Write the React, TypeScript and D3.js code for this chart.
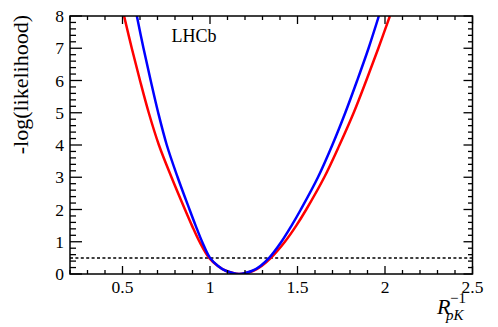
import React, { useRef, useEffect } from 'react';
import * as d3 from 'd3';

// values: -log(likelihood) against R_pK^-1
const xRed = [0.509, 0.553, 0.600, 0.650, 0.708, 0.780, 0.857, 0.897, 0.940, 0.995, 1.045, 1.090, 1.168, 1.248, 1.295, 1.348, 1.428, 1.493, 1.550, 1.653, 1.740, 1.821, 1.893, 1.962, 2.028];
const yRed = [8, 7, 6, 5, 4, 3, 2, 1.5, 1, 0.5, 0.25, 0.1, 0, 0.1, 0.25, 0.5, 1, 1.5, 2, 3, 4, 5, 6, 7, 8];

const xBlue = [0.582, 0.620, 0.661, 0.704, 0.753, 0.815, 0.883, 0.918, 0.955, 1.000, 1.046, 1.090, 1.165, 1.242, 1.288, 1.338, 1.408, 1.466, 1.519, 1.617, 1.699, 1.773, 1.841, 1.906, 1.965];
const yBlue = [8, 7, 6, 5, 4, 3, 2, 1.5, 1, 0.5, 0.25, 0.1, 0, 0.1, 0.25, 0.5, 1, 1.5, 2, 3, 4, 5, 6, 7, 8];

const xMajor = [0.5, 1, 1.5, 2, 2.5];
const xMajorLabels = ['0.5', '1', '1.5', '2', '2.5'];
const yMajor = [0, 1, 2, 3, 4, 5, 6, 7, 8];
const threshold = 0.5;

const LikelihoodScan = () => {
  const svgRef = useRef(null);

  useEffect(() => {
    const W = 498, H = 327;
    const margin = { top: 16, right: 25.5, bottom: 53, left: 70 };
    const x = d3.scaleLinear().domain([0.2, 2.5]).range([margin.left, W - margin.right]);
    const y = d3.scaleLinear().domain([0, 8]).range([H - margin.bottom, margin.top]);
    const font = '"Liberation Serif", "Times New Roman", serif';

    const svg = d3.select(svgRef.current)
      .attr('width', W)
      .attr('height', H);

    const x0 = x.range()[0], x1 = x.range()[1];
    const y0 = y.range()[0], y1 = y.range()[1];

    svg.append('clipPath').attr('id', 'frameClip')
      .append('rect')
      .attr('x', x0).attr('y', y1)
      .attr('width', x1 - x0).attr('height', y0 - y1);

    // dotted line at 0.5
    svg.append('line')
      .attr('x1', x0).attr('x2', x1)
      .attr('y1', y(threshold)).attr('y2', y(threshold))
      .attr('stroke', '#000')
      .attr('stroke-width', 1.5)
      .attr('stroke-dasharray', '3,2.4');

    const line = d3.line()
      .x(d => x(d[0]))
      .y(d => y(d[1]))
      .curve(d3.curveCatmullRom.alpha(0.5));

    const series = [
      { xs: xRed, ys: yRed, color: '#ff0000' },
      { xs: xBlue, ys: yBlue, color: '#0000ff' },
    ];

    svg.append('g')
      .attr('clip-path', 'url(#frameClip)')
      .selectAll('path')
      .data(series)
      .enter()
      .append('path')
      .attr('d', d => line(d.xs.map((v, i) => [v, d.ys[i]])))
      .attr('fill', 'none')
      .attr('stroke', d => d.color)
      .attr('stroke-width', 2.5)
      .attr('stroke-linejoin', 'round');

    // ticks on all four sides
    const xMinor = d3.range(2, 26).map(v => v / 10);
    const yMinor = d3.range(0, 41).map(v => v / 5);
    const ticks = svg.append('g').attr('stroke', '#000').attr('stroke-width', 1.3);

    xMinor.forEach(v => {
      const major = xMajor.some(m => Math.abs(m - v) < 1e-6);
      const len = major ? 8 : 4;
      ticks.append('line').attr('x1', x(v)).attr('x2', x(v)).attr('y1', y0).attr('y2', y0 - len);
      ticks.append('line').attr('x1', x(v)).attr('x2', x(v)).attr('y1', y1).attr('y2', y1 + len);
    });

    yMinor.forEach(v => {
      const major = Math.abs(v - Math.round(v)) < 1e-6;
      ticks.append('line').attr('x1', x0).attr('x2', x0 + (major ? 12 : 6)).attr('y1', y(v)).attr('y2', y(v));
      ticks.append('line').attr('x1', x1).attr('x2', x1 - (major ? 9 : 4.5)).attr('y1', y(v)).attr('y2', y(v));
    });

    svg.append('rect')
      .attr('x', x0).attr('y', y1)
      .attr('width', x1 - x0).attr('height', y0 - y1)
      .attr('fill', 'none')
      .attr('stroke', '#000')
      .attr('stroke-width', 1.5);

    // tick labels
    svg.append('g')
      .selectAll('text')
      .data(xMajor)
      .enter()
      .append('text')
      .attr('x', d => x(d))
      .attr('y', 292.5)
      .attr('text-anchor', 'middle')
      .style('font-family', font)
      .style('font-size', '17.5px')
      .text((d, i) => xMajorLabels[i]);

    svg.append('g')
      .selectAll('text')
      .data(yMajor)
      .enter()
      .append('text')
      .attr('x', 64)
      .attr('y', d => y(d) + 6)
      .attr('text-anchor', 'end')
      .style('font-family', font)
      .style('font-size', '17.5px')
      .text(d => d);

    // axis titles
    svg.append('text')
      .attr('transform', 'translate(27.5, 15) rotate(-90)')
      .attr('text-anchor', 'end')
      .style('font-family', font)
      .style('font-size', '22px')
      .text('-log(likelihood)');

    const xt = svg.append('g').style('font-family', font);
    xt.append('text').attr('x', 437).attr('y', 314)
      .style('font-size', '22px').style('font-style', 'italic').text('R');
    xt.append('text').attr('x', 450).attr('y', 303)
      .style('font-size', '15px').text('\u22121');
    xt.append('text').attr('x', 446).attr('y', 320)
      .style('font-size', '15px').style('font-style', 'italic').text('pK');

    svg.append('text')
      .attr('x', 171.5)
      .attr('y', 42.3)
      .style('font-family', font)
      .style('font-size', '18px')
      .text('LHCb');

    return () => {
      d3.select(svgRef.current).selectAll('*').remove();
    };
  }, []);

  return (
    <div>
      <style>{'body{margin:0;background:#fff}'}</style>
      <svg ref={svgRef} style={{ display: 'block' }}></svg>
    </div>
  );
};

export default function App() {
  return <LikelihoodScan />;
}
